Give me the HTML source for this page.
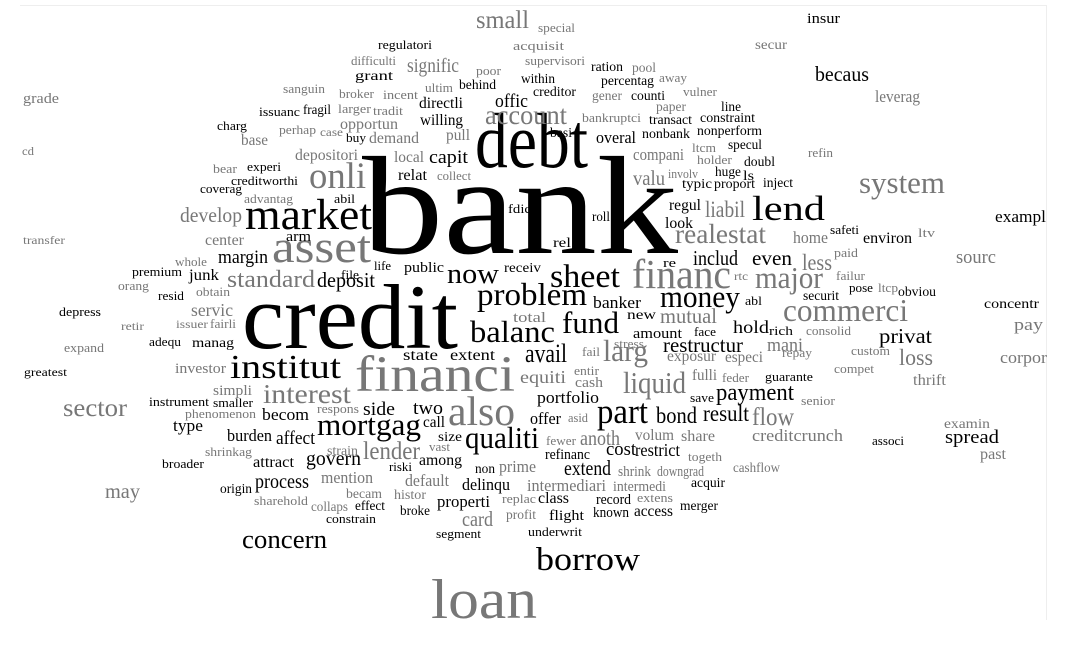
<!DOCTYPE html>
<html>
<head>
<meta charset="utf-8">
<style>
  html,body{margin:0;padding:0;background:#fff;}
  #wrap{position:relative;width:1074px;height:658px;overflow:hidden;background:#fff;}
  svg{position:absolute;left:0;top:0;}
  text{font-family:"Liberation Serif","DejaVu Serif",serif;}
</style>
</head>
<body>
<div id="wrap">
<svg id="cloud" width="1074" height="658" viewBox="0 0 1074 658">
  <line x1="20" y1="5.5" x2="1046" y2="5.5" stroke="#eeeeee" stroke-width="1"/>
  <line x1="1046.5" y1="5" x2="1046.5" y2="620" stroke="#eeeeee" stroke-width="1"/>
</svg>
</div>
<script>
// [word, left x, baseline y, font size, tone (b=black, g=gray), width]
const words = [
["bank",362,253,140,"b",316],["credit",242,348,92,"b",216],["debt",475,167,78,"b",113],
["financi",355,391,51,"g",160],["loan",431,618,56,"g",106],["also",448,425,41,"g",67],
["asset",272,262,45,"g",99],["market",245,229,43,"b",127],["onli",309,188,37,"g",57],
["financ",632,288,41,"g",99],["lend",752,220,35,"b",73],["commerci",783,321,32,"g",125],
["institut",230,378,34,"b",111],["problem",477,305,32,"b",110],["sheet",550,287,33,"b",70],
["balanc",470,342,31,"b",85],["fund",562,333,31,"b",57],["money",660,307,31,"b",80],
["major",755,288,31,"g",68],["system",859,193,31,"g",86],["realestat",675,243,27,"g",91],
["mortgag",317,435,31,"b",104],["qualiti",465,448,31,"b",74],["part",597,423,35,"b",51],
["liquid",623,393,31,"g",63],["larg",603,361,31,"g",45],["borrow",536,570,33,"b",104],
["interest",263,403,27,"g",88],["account",485,124,27,"g",82],["now",447,283,28,"b",52],
["avail",525,362,26,"b",42],["standard",227,287,24,"g",88],["concern",242,548,26,"b",85],
["small",476,28,25,"g",53],["payment",716,400,24,"b",78],["sector",63,416,25,"g",64],
["lender",363,459,25,"g",57],["flow",752,425,25,"g",42],["develop",180,222,21,"g",62],
["deposit",317,287,21,"b",58],["restructur",663,352,21,"b",80],["includ",693,265,21,"b",45],
["even",752,265,21,"b",40],["becaus",815,81,21,"b",54],["liabil",705,217,23,"g",40],
["less",802,270,23,"g",30],["loss",899,365,23,"g",34],["privat",879,343,21,"b",53],
["valu",633,185,21,"g",32],["bond",656,423,23,"b",41],["result",703,421,23,"b",46],
["govern",306,465,21,"b",55],["anoth",580,445,21,"g",40],["extend",564,475,21,"b",47],
["card",462,526,21,"g",31],["may",105,498,21,"g",35],["capit",429,163,19,"b",39],
["margin",218,263,19,"b",50],["signific",407,72,20,"g",52],["offic",495,107,19,"b",33],
["spread",945,443,19,"b",54],["sourc",956,263,19,"g",40],["process",255,488,20,"b",54],
["side",363,415,19,"b",32],["two",413,414,19,"b",30],["cost",606,455,19,"b",30],
["restrict",635,456,18,"b",45],["hold",733,333,18,"b",36],["mani",767,351,19,"g",36],
["affect",276,444,19,"b",39],["mutual",660,323,21,"g",57],["creditcrunch",752,441,17,"g",91],
["exampl",995,222,17,"b",51],["leverag",875,102,17,"g",45],["home",793,243,17,"g",35],
["corpor",1000,363,17,"g",47],["pay",1014,330,17,"g",29],["servic",191,316,18,"g",42],
["equiti",520,383,18,"g",46],["portfolio",537,403,17,"b",62],["compani",633,160,17,"g",51],
["overal",596,143,17,"b",40],["becom",262,420,17,"b",47],["type",173,431,17,"b",30],
["burden",227,441,17,"b",45],["delinqu",462,490,17,"b",48],["intermediari",527,491,17,"g",79],
["properti",437,507,17,"b",53],["mention",321,483,17,"g",52],["default",405,486,17,"g",44],
["offer",530,424,17,"b",31],["prime",499,472,17,"g",37],["demand",369,143,16,"g",50],
["base",241,145,16,"g",27],["pull",446,140,16,"g",24],["depositori",295,160,16,"g",63],
["local",394,162,16,"g",30],["relat",398,180,16,"b",29],["directli",419,108,16,"b",44],
["willing",420,125,16,"b",43],["opportun",340,129,16,"g",58],["center",205,245,16,"g",39],
["junk",189,280,16,"b",30],["state",403,360,16,"b",35],["extent",450,360,16,"b",45],
["look",665,228,16,"b",28],["regul",669,210,16,"b",32],["environ",863,243,16,"b",49],
["exposur",667,361,16,"g",49],["especi",725,362,16,"g",38],["fulli",692,380,16,"g",25],
["thrift",913,385,16,"g",33],["volum",635,440,16,"g",39],["share",681,441,16,"g",34],
["past",980,459,16,"g",26],["attract",253,467,16,"b",41],["among",419,465,16,"b",43],
["call",423,427,16,"b",22],["class",538,503,16,"b",31],["access",634,516,16,"b",39],
["banker",593,308,17,"b",48],["public",404,272,15,"b",40],["total",513,322,15,"g",33],
["amount",633,338,15,"b",49],["investor",175,373,15,"g",51],["simpli",213,395,15,"g",39],
["cash",575,387,15,"g",28],["refinanc",545,459,15,"b",45],["shrink",618,476,15,"g",33],
["downgrad",657,476,15,"g",47],["intermedi",613,491,15,"g",53],["record",596,504,15,"b",35],
["known",593,517,15,"b",36],["flight",549,520,15,"b",35],["arm",286,241,15,"b",25],
["insur",807,23,15,"b",33],["grade",23,103,15,"g",36],["receiv",504,272,14,"b",37],
["roll",592,221,14,"b",18],["rel",553,247,14,"b",18],["basi",550,137,14,"b",22],
["nonbank",642,138,14,"b",48],["typic",682,188,14,"b",30],["ration",591,71,14,"b",32],
["pool",632,72,14,"g",24],["within",521,83,14,"b",34],["percentag",601,85,14,"b",53],
["creditor",533,96,14,"b",43],["gener",592,100,14,"g",30],["counti",631,100,14,"b",34],
["paper",656,111,14,"g",30],["line",721,111,14,"b",20],["transact",649,124,14,"b",43],
["constraint",700,122,14,"b",55],["nonperform",697,135,14,"b",65],["specul",728,149,14,"b",34],
["doubl",744,166,14,"b",31],["huge",715,176,14,"b",26],["ls",743,180,14,"b",11],
["proport",714,188,14,"b",41],["inject",763,187,14,"b",30],["secur",755,49,14,"g",32],
["securit",803,300,14,"b",36],["obviou",898,296,14,"b",38],["concentr",984,308,14,"b",55],
["new",627,319,14,"b",29],["examin",944,428,14,"g",46],["cashflow",733,472,14,"g",47],
["acquir",691,487,14,"b",34],["non",475,473,14,"b",20],["merger",680,510,14,"b",38],
["profit",506,519,14,"g",30],["broke",400,515,14,"b",30],["size",438,441,14,"b",24],
["strain",327,455,14,"g",31],["origin",220,493,14,"b",32],["becam",346,498,14,"g",36],
["histor",394,499,14,"g",32],["collaps",311,511,14,"g",37],["effect",355,510,14,"b",30],
["manag",192,347,14,"b",42],["regulatori",378,49,13,"b",54],["difficulti",351,65,13,"g",45],
["poor",476,75,13,"g",25],["grant",355,80,14,"b",38],["sanguin",283,93,13,"g",42],
["broker",339,98,13,"g",35],["incent",383,99,13,"g",35],["ultim",425,92,13,"g",28],
["behind",459,89,14,"b",37],["issuanc",259,116,13,"b",41],["fragil",303,114,14,"b",28],
["larger",338,113,13,"g",33],["tradit",373,115,13,"g",30],["charg",217,130,13,"b",30],
["perhap",279,134,13,"g",37],["case",320,136,12,"g",23],["buy",346,142,13,"b",20],
["bear",213,173,13,"g",24],["experi",247,171,13,"b",34],["collect",437,180,13,"g",34],
["creditworthi",231,185,13,"b",67],["coverag",200,193,13,"b",42],["advantag",244,203,13,"g",49],
["abil",334,203,13,"b",21],["fdic",508,213,13,"b",23],["whole",175,266,13,"g",32],
["premium",132,276,13,"b",50],["file",341,279,13,"b",18],["life",374,270,13,"b",17],
["re",663,267,13,"b",13],["orang",118,290,13,"g",31],["resid",158,300,13,"b",26],
["obtain",196,296,13,"g",34],["depress",59,316,13,"b",42],["retir",121,330,12,"g",23],
["issuer",176,328,12,"g",32],["fairli",210,328,13,"g",26],["special",538,32,13,"g",37],
["acquisit",513,50,13,"g",51],["supervisori",525,65,13,"g",60],["away",659,82,13,"g",28],
["vulner",683,96,13,"g",34],["bankruptci",582,122,13,"g",59],["ltcm",692,152,13,"g",24],
["refin",808,157,13,"g",25],["holder",697,164,13,"g",35],["involv",668,178,13,"g",30],
["safeti",830,234,13,"b",29],["ltv",918,237,13,"g",17],["paid",834,257,13,"g",24],
["rtc",734,280,12,"g",14],["failur",836,280,13,"g",29],["pose",849,292,13,"b",24],
["ltcp",878,292,13,"g",20],["abl",745,305,13,"b",17],["rich",769,335,13,"b",24],
["consolid",806,335,13,"g",45],["face",694,336,13,"b",22],["fail",582,356,13,"g",18],
["stress",614,348,13,"g",30],["repay",782,357,13,"g",30],["custom",851,355,13,"g",39],
["entir",574,375,13,"g",25],["feder",722,382,13,"g",27],["guarante",765,381,13,"b",48],
["compet",834,373,13,"g",40],["save",690,402,13,"b",24],["senior",801,405,13,"g",34],
["asid",568,422,13,"g",20],["associ",872,445,13,"b",32],["fewer",546,445,13,"g",30],
["togeth",688,461,13,"g",34],["replac",502,503,13,"g",34],["extens",637,502,13,"g",36],
["segment",436,538,13,"b",45],["underwrit",528,536,13,"b",54],["expand",64,352,13,"g",40],
["adequ",149,346,13,"b",32],["greatest",24,376,12,"b",43],["instrument",149,406,13,"b",60],
["smaller",213,407,13,"b",40],["phenomenon",185,418,13,"g",71],["respons",317,413,13,"g",42],
["shrinkag",205,456,13,"g",47],["vast",429,451,13,"g",21],["broader",162,468,13,"b",42],
["riski",389,471,13,"b",23],["sharehold",254,505,13,"g",54],["constrain",326,523,13,"b",50],
["cd",22,155,12,"g",12],["transfer",23,244,12,"g",42]
];
const svg = document.getElementById('cloud');
const NS = 'http://www.w3.org/2000/svg';
for (const w of words) {
  const t = document.createElementNS(NS, 'text');
  t.setAttribute('x', w[1]);
  t.setAttribute('y', w[2]);
  t.setAttribute('font-size', w[3]);
  t.setAttribute('fill', w[4] === 'b' ? '#000000' : '#777777');
  t.setAttribute('textLength', w[5]);
  t.setAttribute('lengthAdjust', 'spacingAndGlyphs');
  
  
  t.textContent = w[0];
  svg.appendChild(t);
}
</script>
</body>
</html>
